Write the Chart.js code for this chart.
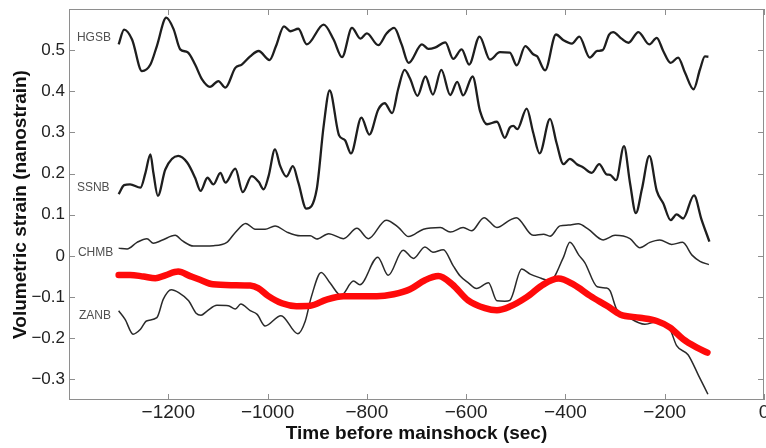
<!DOCTYPE html>
<html>
<head>
<meta charset="utf-8">
<script src="https://cdn.jsdelivr.net/npm/chart.js@4.4.1/dist/chart.umd.min.js"></script>
<style>
  html, body { margin: 0; padding: 0; background: #fff; overflow: hidden; }
  canvas { display: block; }
</style>
</head>
<body>
<canvas id="strainChart" width="766" height="448"></canvas>
<script>
const fontFamily = "'Liberation Sans', Arial, Helvetica, sans-serif";

// axis ticks
const xTicks = [-1200, -1000, -800, -600, -400, -200, 0];
const xTickLabels = ["\u22121200", "\u22121000", "\u2212800", "\u2212600", "\u2212400", "\u2212200", "0"];
const yTicks = [-0.3, -0.2, -0.1, 0, 0.1, 0.2, 0.3, 0.4, 0.5];
const yTickLabels = ["\u22120.3", "\u22120.2", "\u22120.1", "0", "0.1", "0.2", "0.3", "0.4", "0.5"];

// HGSB
const hgsbTime = [-1300, -1289, -1273, -1253, -1236, -1223, -1204, -1189, -1176, -1161,
  -1146, -1132, -1116, -1099, -1085, -1065, -1052, -1035, -1018, -996,
  -983, -967, -954, -938, -921, -887, -867, -850, -830, -813,
  -800, -777, -760, -745, -730, -716, -689, -676, -663, -642,
  -626, -609, -594, -573, -552, -532, -512, -498, -481, -465,
  -457, -441, -419, -404, -387, -372, -351, -336, -325, -312,
  -304, -287, -273, -253, -231, -216, -203, -188, -173, -159,
  -142, -129, -119, -112];
const hgsbStrain = [0.514, 0.550, 0.526, 0.449, 0.465, 0.510, 0.579, 0.550, 0.502, 0.495,
  0.465, 0.429, 0.411, 0.425, 0.409, 0.457, 0.465, 0.485, 0.498, 0.476,
  0.510, 0.558, 0.546, 0.552, 0.514, 0.562, 0.526, 0.483, 0.554, 0.528,
  0.541, 0.512, 0.541, 0.554, 0.514, 0.469, 0.514, 0.503, 0.506, 0.519,
  0.479, 0.502, 0.465, 0.533, 0.477, 0.495, 0.494, 0.463, 0.510, 0.490,
  0.485, 0.451, 0.538, 0.524, 0.516, 0.533, 0.482, 0.498, 0.500, 0.538,
  0.544, 0.528, 0.518, 0.544, 0.514, 0.530, 0.498, 0.469, 0.482, 0.445,
  0.405, 0.453, 0.485, 0.484];

// SSNB
const ssnbTime = [-1300, -1289, -1277, -1256, -1246, -1236, -1230, -1221, -1206, -1180,
  -1162, -1146, -1135, -1121, -1109, -1095, -1085, -1065, -1050, -1032,
  -1018, -1008, -998, -985, -975, -962, -949, -938, -922, -901,
  -887, -875, -856, -844, -832, -811, -795, -777, -764, -749,
  -737, -724, -713, -698, -682, -667, -650, -632, -618, -606,
  -587, -572, -558, -538, -522, -512, -505, -497, -478, -465,
  -452, -431, -418, -404, -391, -377, -364, -347, -332, -317,
  -310, -298, -282, -270, -258, -246, -231, -216, -203, -188,
  -176, -163, -141, -126, -110];
const ssnbStrain = [0.150, 0.172, 0.174, 0.166, 0.202, 0.247, 0.202, 0.146, 0.210, 0.243,
  0.227, 0.190, 0.158, 0.190, 0.174, 0.202, 0.178, 0.212, 0.155, 0.194,
  0.180, 0.162, 0.194, 0.259, 0.220, 0.193, 0.218, 0.178, 0.115, 0.162,
  0.316, 0.402, 0.293, 0.281, 0.249, 0.336, 0.295, 0.356, 0.371, 0.347,
  0.405, 0.452, 0.431, 0.389, 0.436, 0.392, 0.452, 0.391, 0.423, 0.390,
  0.436, 0.352, 0.320, 0.326, 0.287, 0.312, 0.316, 0.308, 0.358, 0.300,
  0.249, 0.333, 0.275, 0.223, 0.236, 0.223, 0.215, 0.202, 0.223, 0.198,
  0.197, 0.184, 0.267, 0.178, 0.104, 0.162, 0.243, 0.158, 0.128, 0.087,
  0.101, 0.091, 0.147, 0.089, 0.035];

// CHMB
const chmbTime = [-1300, -1283, -1263, -1243, -1230, -1213, -1186, -1172, -1149, -1109,
  -1082, -1065, -1044, -1025, -1005, -985, -961, -934, -914, -901,
  -877, -847, -820, -797, -761, -736, -716, -686, -652, -632,
  -606, -589, -564, -538, -512, -499, -465, -444, -431, -411,
  -394, -374, -354, -324, -300, -270, -250, -230, -210, -186,
  -164, -145, -129, -111];
const chmbStrain = [0.019, 0.017, 0.033, 0.042, 0.031, 0.038, 0.050, 0.037, 0.024, 0.025,
  0.033, 0.057, 0.079, 0.065, 0.065, 0.073, 0.058, 0.049, 0.049, 0.041,
  0.054, 0.042, 0.067, 0.042, 0.087, 0.069, 0.047, 0.065, 0.069, 0.058,
  0.069, 0.061, 0.093, 0.069, 0.087, 0.093, 0.050, 0.053, 0.048, 0.073,
  0.075, 0.078, 0.065, 0.039, 0.050, 0.042, 0.020, 0.033, 0.039, 0.028,
  0.033, 0.002, -0.013, -0.021];

// ZANB
const zanbTime = [-1300, -1287, -1271, -1256, -1244, -1223, -1210, -1194, -1179, -1159,
  -1144, -1134, -1122, -1102, -1079, -1065, -1054, -1035, -1021, -1005,
  -973, -939, -924, -912, -892, -874, -852, -827, -814, -778,
  -757, -727, -706, -683, -667, -646, -626, -612, -595, -579,
  -555, -538, -522, -512, -488, -471, -449, -431, -405, -391,
  -373, -361, -336, -317, -310, -297, -277, -240, -210, -189,
  -176, -153, -132, -113];
const zanbStrain = [-0.133, -0.154, -0.190, -0.178, -0.158, -0.150, -0.105, -0.082, -0.089, -0.109,
  -0.139, -0.144, -0.134, -0.120, -0.121, -0.129, -0.117, -0.133, -0.142, -0.170,
  -0.145, -0.189, -0.158, -0.100, -0.040, -0.066, -0.096, -0.061, -0.070, -0.003,
  -0.047, 0.014, -0.006, 0.022, 0.009, 0.015, -0.024, -0.049, -0.066, -0.079,
  -0.065, -0.109, -0.110, -0.108, -0.032, -0.044, -0.054, -0.061, -0.006, 0.033,
  0.002, -0.016, -0.075, -0.078, -0.085, -0.129, -0.146, -0.166, -0.158, -0.179,
  -0.218, -0.240, -0.290, -0.336];

// red curve
const redTime = [-1300, -1277, -1250, -1226, -1206, -1180, -1156, -1136, -1110, -1069,
  -1035, -1019, -999, -971, -942, -914, -881, -847, -814, -780,
  -746, -713, -683, -656, -628, -596, -562, -538, -512, -478,
  -444, -414, -384, -350, -314, -290, -250, -216, -189, -163,
  -136, -114];
const redStrain = [-0.046, -0.046, -0.050, -0.054, -0.047, -0.038, -0.049, -0.058, -0.069, -0.071,
  -0.072, -0.078, -0.097, -0.115, -0.122, -0.121, -0.106, -0.098, -0.098, -0.098,
  -0.093, -0.081, -0.059, -0.049, -0.069, -0.108, -0.127, -0.132, -0.123, -0.100,
  -0.069, -0.055, -0.069, -0.097, -0.123, -0.142, -0.150, -0.158, -0.174, -0.202,
  -0.222, -0.235];

const stationNames = ["HGSB", "SSNB", "CHMB", "ZANB"];

function toPoints(times, values) {
  return times.map((t, i) => ({ x: t, y: values[i] }));
}

// where the station names sit (data units)
const nameSpots = [
  { x: -1384, y: 0.531 },
  { x: -1384, y: 0.167 },
  { x: -1382, y: 0.009 },
  { x: -1380, y: -0.144 }
];

const framePlugin = {
  id: 'frame',
  afterDraw(chart) {
    const { ctx, chartArea: a, scales: { x, y } } = chart;
    ctx.save();
    ctx.strokeStyle = '#8e8e8e';
    ctx.lineWidth = 1;
    ctx.strokeRect(a.left + 0.5, a.top + 0.5, a.right - a.left - 1, a.bottom - a.top - 1);
    ctx.beginPath();
    x.ticks.forEach(t => {
      const px = Math.round(x.getPixelForValue(t.value)) + 0.5;
      ctx.moveTo(px, a.bottom); ctx.lineTo(px, a.bottom - 6);
      ctx.moveTo(px, a.top); ctx.lineTo(px, a.top + 6);
    });
    y.ticks.forEach(t => {
      const py = Math.round(y.getPixelForValue(t.value)) + 0.5;
      ctx.moveTo(a.left, py); ctx.lineTo(a.left + 6, py);
      ctx.moveTo(a.right, py); ctx.lineTo(a.right - 6, py);
    });
    ctx.stroke();

    ctx.fillStyle = '#505050';
    ctx.font = `12px ${fontFamily}`;
    ctx.textAlign = 'left';
    ctx.textBaseline = 'middle';
    stationNames.forEach((name, i) => {
      ctx.fillText(name, x.getPixelForValue(nameSpots[i].x), y.getPixelForValue(nameSpots[i].y));
    });
    ctx.restore();
  }
};

const lineBase = { pointRadius: 0, fill: false, cubicInterpolationMode: 'monotone' };

new Chart(document.getElementById('strainChart'), {
  type: 'line',
  data: {
    datasets: [
      { ...lineBase, label: 'red', data: toPoints(redTime, redStrain), borderColor: '#ff0a0a', borderWidth: 6.5, borderCapStyle: 'round' },
      { ...lineBase, label: 'HGSB', data: toPoints(hgsbTime, hgsbStrain), borderColor: '#1e1e1e', borderWidth: 2.3 },
      { ...lineBase, label: 'SSNB', data: toPoints(ssnbTime, ssnbStrain), borderColor: '#1e1e1e', borderWidth: 2.3 },
      { ...lineBase, label: 'CHMB', data: toPoints(chmbTime, chmbStrain), borderColor: '#2a2a2a', borderWidth: 1.5 },
      { ...lineBase, label: 'ZANB', data: toPoints(zanbTime, zanbStrain), borderColor: '#2a2a2a', borderWidth: 1.5 }
    ]
  },
  options: {
    responsive: false,
    animation: false,
    layout: { padding: { left: 0, top: 9, right: 2, bottom: 0 } },
    plugins: { legend: { display: false }, tooltip: { enabled: false } },
    scales: {
      x: {
        type: 'linear',
        min: -1400,
        max: 0,
        afterBuildTicks: s => { s.ticks = xTicks.map(v => ({ value: v })); },
        afterFit: s => { s.paddingLeft = 0; s.paddingRight = 0; s.height = 48; },
        grid: { display: false, drawTicks: false },
        border: { display: false },
        ticks: {
          autoSkip: false, maxRotation: 0, padding: 1, color: '#222',
          font: { family: fontFamily, size: 19 },
          callback: (v, i) => xTickLabels[i]
        },
        title: {
          display: true, text: 'Time before mainshock (sec)', color: '#111',
          font: { family: fontFamily, size: 19, weight: 'bold', lineHeight: 1 },
          padding: { top: 0, bottom: 5 }
        }
      },
      y: {
        type: 'linear',
        min: -0.35,
        max: 0.6,
        afterBuildTicks: s => { s.ticks = yTicks.map(v => ({ value: v })); },
        afterFit: s => { s.paddingTop = 0; s.paddingBottom = 0; s.width = 69; },
        grid: { display: false, drawTicks: false },
        border: { display: false },
        ticks: {
          autoSkip: false, padding: 4, color: '#222',
          font: { family: fontFamily, size: 17 },
          callback: (v, i) => yTickLabels[i]
        },
        title: {
          display: true, text: 'Volumetric strain (nanostrain)', color: '#111',
          font: { family: fontFamily, size: 19, weight: 'bold', lineHeight: 1 },
          padding: { top: 11, bottom: 0 }
        }
      }
    }
  },
  plugins: [framePlugin]
});
</script>
</body>
</html>
